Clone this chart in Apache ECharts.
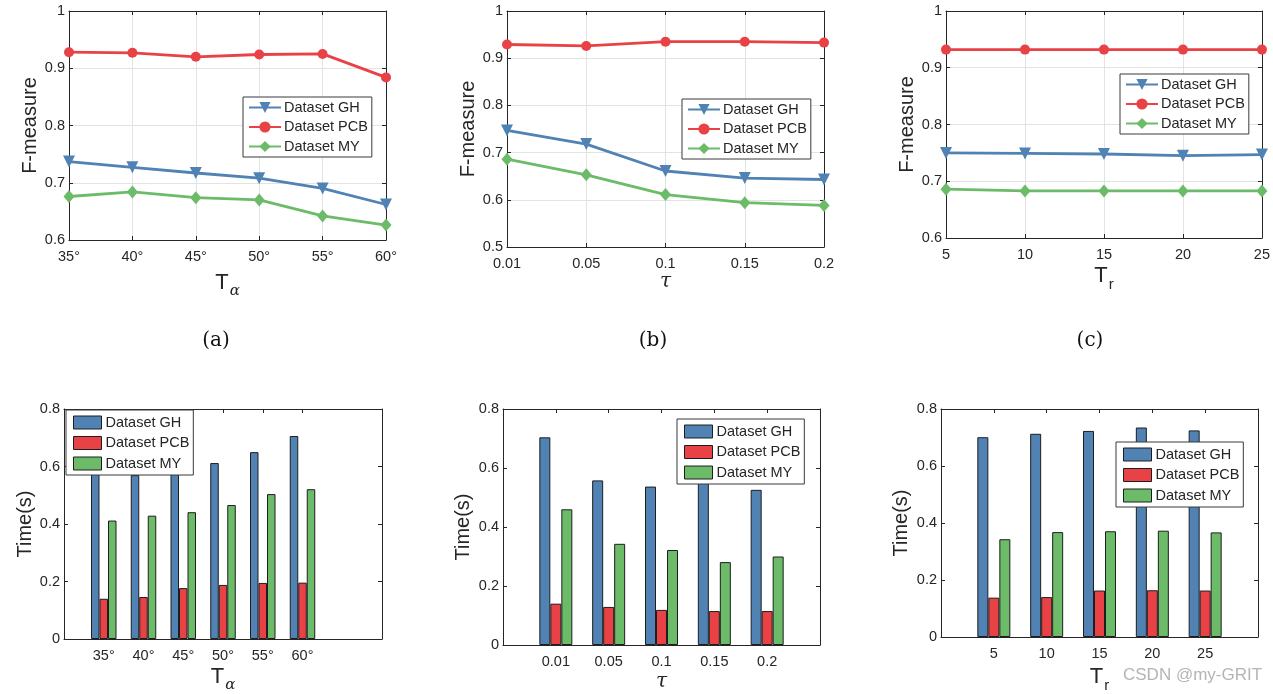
<!DOCTYPE html>
<html><head><meta charset="utf-8">
<script src="https://cdn.jsdelivr.net/npm/echarts@6/dist/echarts.min.js"></script>
<style>html,body{margin:0;padding:0;background:#fff}#c{width:1273px;height:694px}</style>
</head><body><div id="c"></div>
<script>
// ---- data ----
const seriesNames = ['Dataset GH', 'Dataset PCB', 'Dataset MY'];
const catsA = ['35°', '40°', '45°', '50°', '55°', '60°'];
const catsB = ['0.01', '0.05', '0.1', '0.15', '0.2'];
const catsC = ['5', '10', '15', '20', '25'];

const fA_GH  = [0.737, 0.727, 0.717, 0.708, 0.690, 0.662];
const fA_PCB = [0.928, 0.927, 0.920, 0.924, 0.925, 0.884];
const fA_MY  = [0.676, 0.684, 0.674, 0.670, 0.642, 0.626];

const fB_GH  = [0.747, 0.718, 0.661, 0.646, 0.643];
const fB_PCB = [0.929, 0.926, 0.935, 0.935, 0.933];
const fB_MY  = [0.686, 0.653, 0.611, 0.594, 0.588];

const fC_GH  = [0.750, 0.749, 0.748, 0.745, 0.747];
const fC_PCB = [0.932, 0.932, 0.932, 0.932, 0.932];
const fC_MY  = [0.686, 0.683, 0.683, 0.683, 0.683];

const tA_GH  = [0.589, 0.570, 0.585, 0.612, 0.650, 0.706];
const tA_PCB = [0.140, 0.146, 0.177, 0.188, 0.195, 0.196];
const tA_MY  = [0.412, 0.429, 0.441, 0.466, 0.504, 0.521];

const tB_GH  = [0.704, 0.558, 0.537, 0.560, 0.526];
const tB_PCB = [0.140, 0.129, 0.119, 0.115, 0.115];
const tB_MY  = [0.460, 0.343, 0.322, 0.281, 0.300];

const tC_GH  = [0.701, 0.713, 0.723, 0.735, 0.725];
const tC_PCB = [0.138, 0.140, 0.163, 0.164, 0.163];
const tC_MY  = [0.343, 0.368, 0.371, 0.373, 0.367];

// ---- styles ----
const COLORS = ['#5082b4', '#e84246', '#6cbb68'];
const INK = '#262626';
const SANS = 'Liberation Sans, Arial, Helvetica, sans-serif';
const SERIF = 'DejaVu Serif, Liberation Serif, serif';
const TICKF = 14.5;

const grids = [
  {left: 69,  top: 11,  width: 317, height: 229},
  {left: 507, top: 11,  width: 317, height: 236},
  {left: 946, top: 11,  width: 317, height: 227},
  {left: 64,  top: 409, width: 318, height: 230},
  {left: 503, top: 409, width: 317, height: 236},
  {left: 941, top: 409, width: 317, height: 228}
];

const xAxes = [], yAxes = [], series = [], legends = [];

const notBlank = (i, v) => v !== '';

function xName(kind) {
  if (kind === 'alpha') return {name: '{t|T}{s|α}', rich: {
    t: {fontSize: 22, fontFamily: SANS, color: INK},
    s: {fontSize: 15, fontFamily: SERIF, fontStyle: 'italic', color: INK, padding: [18, 0, 0, 1]}}};
  if (kind === 'r') return {name: '{t|T}{s|r}', rich: {
    t: {fontSize: 22, fontFamily: SANS, color: INK},
    s: {fontSize: 15, fontFamily: SANS, color: INK, padding: [18, 0, 0, 1]}}};
  return {name: 'τ', rich: null};
}

function addPanel(p, cats, yMin, yMax, yInt, yLabel, xKind, nameGapX, nameGapY, isBar, data, legendPos, barW) {
  const xn = xName(xKind);
  const gridLine = {show: !isBar, lineStyle: {color: '#e3e3e3', width: 1}};
  const tickLabelFilter = isBar ? notBlank : 0;
  xAxes.push({
    gridIndex: p, type: 'category', data: cats, boundaryGap: false, position: 'bottom',
    axisLine: {show: true, onZero: false, lineStyle: {color: INK, width: 1}},
    axisTick: {show: true, inside: true, length: 4, interval: tickLabelFilter, lineStyle: {color: INK}},
    axisLabel: {interval: tickLabelFilter, color: INK, fontSize: TICKF, fontFamily: SANS, margin: 9},
    splitLine: Object.assign({interval: tickLabelFilter}, gridLine),
    name: xn.name, nameLocation: 'middle', nameGap: nameGapX,
    nameTextStyle: xn.rich ? {rich: xn.rich, color: INK, fontSize: 22, fontFamily: SANS}
                           : {color: INK, fontSize: 20, fontFamily: SERIF, fontStyle: 'italic'}
  });
  xAxes.push({
    gridIndex: p, type: 'category', data: cats, boundaryGap: false, position: 'top',
    axisLine: {show: true, onZero: false, lineStyle: {color: INK, width: 1}},
    axisTick: {show: true, inside: true, length: 4, interval: tickLabelFilter, lineStyle: {color: INK}},
    axisLabel: {show: false}, splitLine: {show: false}
  });
  yAxes.push({
    gridIndex: p, type: 'value', min: yMin, max: yMax, interval: yInt, position: 'left',
    axisLine: {show: true, lineStyle: {color: INK, width: 1}},
    axisTick: {show: true, inside: true, length: 4, lineStyle: {color: INK}},
    axisLabel: {color: INK, fontSize: TICKF, fontFamily: SANS, margin: 4},
    splitLine: gridLine,
    name: yLabel, nameLocation: 'middle', nameGap: nameGapY, nameRotate: 90,
    nameTextStyle: {color: INK, fontSize: 20, fontFamily: SANS}
  });
  yAxes.push({
    gridIndex: p, type: 'value', min: yMin, max: yMax, interval: yInt, position: 'right',
    axisLine: {show: true, lineStyle: {color: INK, width: 1}},
    axisTick: {show: true, inside: true, length: 4, lineStyle: {color: INK}},
    axisLabel: {show: false}, splitLine: {show: false}
  });
  const symbols = [['triangle', 12, 180], ['circle', 10, 0], ['diamond', [11, 13], 0]];
  data.forEach((vals, k) => {
    if (isBar) {
      series.push({
        type: 'bar', name: seriesNames[k], xAxisIndex: 2 * p, yAxisIndex: 2 * p,
        data: vals, barWidth: barW, barGap: '0%',
        itemStyle: {color: COLORS[k], borderColor: '#1e1e1e', borderWidth: 1},
        emphasis: {disabled: true}, silent: true
      });
    } else {
      series.push({
        type: 'line', name: seriesNames[k], xAxisIndex: 2 * p, yAxisIndex: 2 * p,
        data: vals, symbol: symbols[k][0], symbolSize: symbols[k][1], symbolRotate: symbols[k][2],
        lineStyle: {color: COLORS[k], width: 2.8}, itemStyle: {color: COLORS[k]},
        emphasis: {disabled: true}, silent: true
      });
    }
  });
  const lg = {
    orient: 'vertical', left: legendPos[0], top: legendPos[1], selectedMode: false,
    backgroundColor: '#fff', borderColor: '#3a3a3a', borderWidth: 1, borderRadius: 0,
    padding: isBar ? [5, 4, 4, 7] : [3, 4, 3, 5],
    itemGap: 4.5, textStyle: {color: INK, fontSize: 14.5, fontFamily: SANS, lineHeight: 14, padding: [0, 0, 0, -2]},
    symbolRotate: 'inherit'
  };
  if (isBar) {
    lg.itemWidth = 28; lg.itemHeight = 13; lg.itemGap = 5.5;
    lg.data = seriesNames.map((n, k) => ({name: n, icon: 'rect',
      itemStyle: {color: COLORS[k], borderColor: '#1e1e1e', borderWidth: 1}}));
    lg.textStyle.padding = [0, 0, 0, -1];
  } else {
    lg.itemWidth = 32; lg.itemHeight = 14; lg.itemGap = 4.5;
    lg.data = seriesNames.slice();
  }
  legends.push(lg);
}

function pad(arr, before, after, fill) {
  return Array(before).fill(fill).concat(arr, Array(after).fill(fill));
}

addPanel(0, catsA, 0.6, 1, 0.1, 'F-measure', 'alpha', 26, 26, false, [fA_GH, fA_PCB, fA_MY], [243, 97]);
addPanel(1, catsB, 0.5, 1, 0.1, 'F-measure', 'tau', 24, 28, false, [fB_GH, fB_PCB, fB_MY], [682, 99]);
addPanel(2, catsC, 0.6, 1, 0.1, 'F-measure', 'r', 21, 28, false, [fC_GH, fC_PCB, fC_MY], [1120, 74]);
addPanel(3, pad(catsA, 1, 2, ''), 0, 0.8, 0.2, 'Time(s)', 'alpha', 21, 29, true,
  [pad(tA_GH, 1, 2, null), pad(tA_PCB, 1, 2, null), pad(tA_MY, 1, 2, null)], [66, 410], 8.5);
addPanel(4, pad(catsB, 1, 1, ''), 0, 0.8, 0.2, 'Time(s)', 'tau', 27, 30, true,
  [pad(tB_GH, 1, 1, null), pad(tB_PCB, 1, 1, null), pad(tB_MY, 1, 1, null)], [677, 419], 11);
addPanel(5, pad(catsC, 1, 1, ''), 0, 0.8, 0.2, 'Time(s)', 'r', 23, 30, true,
  [pad(tC_GH, 1, 1, null), pad(tC_PCB, 1, 1, null), pad(tC_MY, 1, 1, null)], [1116, 442], 11);

const panelTags = ['(a)', '(b)', '(c)'];
const tagX = [216, 653, 1090];

const chart = echarts.init(document.getElementById('c'), null, {renderer: 'canvas'});
chart.setOption({
  animation: false,
  backgroundColor: '#fff',
  grid: grids.map(g => Object.assign({containLabel: false}, g)),
  xAxis: xAxes, yAxis: yAxes, series: series, legend: legends,
  graphic: panelTags.map((t, i) => ({
    type: 'text', x: tagX[i], y: 341,
    style: {text: t, fill: '#111', font: '20px ' + SERIF, textAlign: 'center', textVerticalAlign: 'middle'}
  })).concat([{
    type: 'text', x: 1123, y: 675,
    style: {text: 'CSDN @my-GRIT', fill: '#b4b4b4', font: '17px ' + SANS, textAlign: 'left', textVerticalAlign: 'middle'}
  }])
});
</script></body></html>
